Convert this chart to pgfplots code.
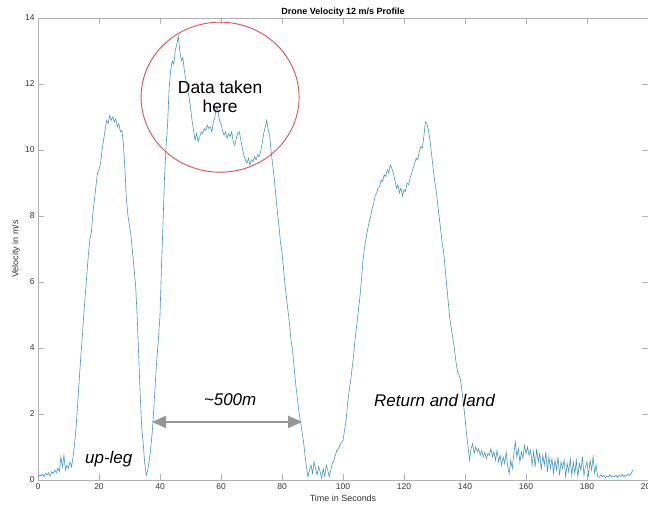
\documentclass[border=0pt]{standalone}
\usepackage{pgfplots}
\pgfplotsset{compat=1.18}
\usepackage{fontspec}
\setmainfont{Liberation Sans}
\usetikzlibrary{arrows.meta}
\definecolor{mline}{RGB}{70,150,196}
\definecolor{circ}{RGB}{222,80,80}
\definecolor{arr}{RGB}{150,150,150}
\begin{document}
\begin{tikzpicture}
\begin{axis}[
  width=610bp, height=462bp, scale only axis,
  xmin=0, xmax=200, ymin=0, ymax=14,
  xtick distance=20, ytick distance=2,
  tick align=inside, major tick length=6bp,
  axis line style={gray!60, line width=0.5pt},
  tick style={gray!60, line width=0.5pt},
  tick label style={font=\fontsize{8.5}{10}\selectfont, text=black!80},
  /pgf/number format/assume math mode=true,
  title={\bfseries Drone Velocity 12 m/s Profile},
  title style={font=\fontsize{9}{11}\selectfont, yshift=-8bp},
  xlabel={Time in Seconds}, ylabel={Velocity in m/s},
  label style={font=\fontsize{9}{11}\selectfont, text=black!80},
  xlabel style={yshift=1bp},
  ylabel style={yshift=-2bp},
  clip=false,
]
\addplot[mline, line width=0.6pt] coordinates {
(0,0.10)(0.5,0.15)(1,0.12)(1.5,0.18)(2,0.10)(2.5,0.20)(3,0.15)(3.5,0.22)(4,0.12)(4.5,0.25)
(5,0.20)(5.5,0.30)(6,0.22)(6.5,0.35)(7,0.25)(7.5,0.70)(8,0.40)(8.5,0.75)(9,0.30)(9.5,0.45)
(10,0.35)(10.5,0.55)(11,0.40)(11.5,0.70)(12,1.10)(12.5,1.60)(13,2.30)(13.5,3.00)(14,3.70)(14.5,4.30)
(15,5.00)(15.5,5.60)(16,6.20)(16.5,6.80)(17,7.30)(17.5,7.50)(18,8.10)(18.5,8.50)(19,8.90)(19.5,9.30)
(20,9.40)(20.5,9.60)(21,10.00)(21.5,10.30)(22,10.60)(22.5,10.90)(23,10.80)(23.5,11.05)(24,10.90)(24.5,11.00)
(25,10.85)(25.5,10.95)(26,10.70)(26.5,10.80)(27,10.55)(27.5,10.60)(28,10.20)(28.5,9.40)(29,8.50)(29.5,8.00)
(30,7.70)(30.5,7.40)(31,6.90)(31.5,6.40)(32,5.90)(32.5,5.00)(33,3.80)(33.5,2.60)(34,1.60)(34.5,1.10)
(35,0.50)(35.5,0.15)(36,0.30)(36.5,0.60)(37,1.00)(37.5,1.50)(38,2.20)(38.5,3.00)(39,3.70)(39.5,4.30)
(40,5.00)(40.5,6.50)(41,7.80)(41.5,9.20)(42,10.10)(42.5,10.80)(43,11.90)(43.5,12.40)(44,12.70)(44.5,12.60)
(45,13.00)(45.5,13.20)(46,13.45)(46.5,13.00)(47,12.70)(47.5,12.80)(48,12.40)(48.5,12.10)(49,11.90)(49.5,11.60)
(50,11.30)(50.5,10.90)(51,10.60)(51.5,10.30)(52,10.50)(52.5,10.25)(53,10.40)(53.5,10.55)(54,10.50)(54.5,10.65)
(55,10.60)(55.5,10.75)(56,10.65)(56.5,10.70)(57,10.55)(57.5,10.85)(58,11.00)(58.5,11.30)(59,11.20)(59.5,10.90)
(60,10.80)(60.5,10.60)(61,10.45)(61.5,10.55)(62,10.35)(62.5,10.50)(63,10.40)(63.5,10.55)(64,10.25)(64.5,10.15)
(65,10.35)(65.5,10.50)(66,10.55)(66.5,10.30)(67,10.05)(67.5,9.85)(68,9.70)(68.5,9.60)(69,9.75)(69.5,9.55)
(70,9.70)(70.5,9.65)(71,9.80)(71.5,9.70)(72,9.85)(72.5,9.80)(73,9.95)(73.5,10.20)(74,10.50)(74.5,10.70)
(75,10.90)(75.5,10.60)(76,10.40)(76.5,9.90)(77,9.50)(77.5,9.10)(78,8.60)(78.5,8.10)(79,7.70)(79.5,7.20)
(80,6.90)(80.5,6.40)(81,5.90)(81.5,5.50)(82,5.10)(82.5,4.70)(83,4.20)(83.5,3.90)(84,3.40)(84.5,2.90)
(85,2.50)(85.5,2.10)(86,1.80)(86.5,1.50)(87,1.20)(87.5,0.80)(88,0.40)(88.5,0.10)(89,0.30)(89.5,0.45)
(90,0.20)(90.5,0.55)(91,0.35)(91.5,0.15)(92,0.40)(92.5,0.25)(93,0.05)(93.5,0.35)(94,0.10)(94.5,0.45)
(95,0.30)(95.5,0.10)(96,0.30)(96.5,0.50)(97,0.60)(97.5,0.75)(98,0.90)(98.5,0.95)(99,1.05)(99.5,1.15)
(100,1.20)(100.5,1.50)(101,1.80)(101.5,2.30)(102,2.70)(102.5,3.00)(103,3.40)(103.5,3.80)(104,4.30)(104.5,4.70)
(105,5.10)(105.5,5.50)(106,6.00)(106.5,6.60)(107,7.00)(107.5,7.30)(108,7.55)(108.5,7.80)(109,7.95)(109.5,8.20)
(110,8.35)(110.5,8.60)(111,8.70)(111.5,8.85)(112,8.90)(112.5,9.10)(113,9.05)(113.5,9.25)(114,9.20)(114.5,9.40)
(115,9.30)(115.5,9.55)(116,9.45)(116.5,9.30)(117,9.10)(117.5,8.85)(118,8.95)(118.5,8.70)(119,8.85)(119.5,8.60)
(120,8.80)(120.5,8.75)(121,9.00)(121.5,8.95)(122,9.15)(122.5,9.30)(123,9.45)(123.5,9.60)(124,9.75)(124.5,9.70)
(125,9.95)(125.5,10.10)(126,10.05)(126.5,10.40)(127,10.85)(127.5,10.80)(128,10.60)(128.5,10.30)(129,9.90)(129.5,9.50)
(130,9.10)(130.5,8.80)(131,8.40)(131.5,8.00)(132,7.60)(132.5,7.20)(133,6.90)(133.5,6.40)(134,5.90)(134.5,5.40)
(135,4.90)(135.5,4.60)(136,4.30)(136.5,4.00)(137,3.60)(137.5,3.30)(138,3.20)(138.5,3.05)(139,2.70)(139.5,2.30)
(140,1.90)(140.5,1.40)(141,1.00)(141.5,0.60)(142,0.95)(142.5,1.10)(143,0.80)(143.5,1.00)(144,0.85)(144.5,0.95)
(145,0.75)(145.5,0.90)(146,0.70)(146.5,0.85)(147,0.65)(147.5,0.80)(148,0.75)(148.5,0.95)(149,0.70)(149.5,0.85)
(150,0.60)(150.5,0.90)(151,0.55)(151.5,0.75)(152,0.45)(152.5,0.70)(153,0.50)(153.5,0.85)(154,0.40)(154.5,0.20)
(155,0.60)(155.5,0.35)(156,0.80)(156.5,1.15)(157,0.70)(157.5,0.95)(158,0.55)(158.5,0.85)(159,0.65)(159.5,1.05)
(160,0.80)(160.5,1.00)(161,0.75)(161.5,0.90)(162,0.45)(162.5,0.85)(163,0.40)(163.5,0.95)(164,0.55)(164.5,0.80)
(165,0.30)(165.5,0.75)(166,0.45)(166.5,0.85)(167,0.25)(167.5,0.70)(168,0.35)(168.5,0.65)(169,0.20)(169.5,0.60)
(170,0.30)(170.5,0.70)(171,0.15)(171.5,0.55)(172,0.35)(172.5,0.60)(173,0.10)(173.5,0.50)(174,0.25)(174.5,0.65)
(175,0.15)(175.5,0.55)(176,0.20)(176.5,0.60)(177,0.10)(177.5,0.50)(178,0.30)(178.5,0.70)(179,0.15)(179.5,0.40)
(180,0.55)(180.5,0.10)(181,0.60)(181.5,0.30)(182,0.70)(182.5,0.20)(183,0.45)(183.5,0.10)(184,0.08)(184.5,0.15)
(185,0.10)(185.5,0.14)(186,0.08)(186.5,0.12)(187,0.10)(187.5,0.16)(188,0.09)(188.5,0.13)(189,0.10)(189.5,0.15)
(190,0.08)(190.5,0.14)(191,0.11)(191.5,0.17)(192,0.10)(192.5,0.14)(193,0.12)(193.5,0.18)(194,0.14)(194.5,0.20)
(195,0.30)
};
\draw[circ, line width=0.9pt] (axis cs:59.7,11.6) ellipse [x radius=79bp, y radius=75bp];
\node[align=center, font=\fontsize{17.5}{19}\selectfont] at (axis cs:59.7,11.6) {Data taken\\here};
\draw[arr, line width=1.8pt, {Triangle[length=14bp,width=12bp]}-{Triangle[length=14bp,width=12bp]}]
  (axis cs:37.4,1.76) -- (axis cs:86.6,1.76);
\node[font=\fontsize{17}{19}\selectfont\itshape] at (axis cs:63,2.42) {\textasciitilde500m};
\node[font=\fontsize{17}{19}\selectfont\itshape] at (axis cs:23.2,0.64) {up-leg};
\node[font=\fontsize{17}{19}\selectfont\itshape] at (axis cs:130,2.4) {Return and land};
\end{axis}
\pgfresetboundingbox
\useasboundingbox ([xshift=-38bp,yshift=-26bp]current axis.south west) rectangle ([yshift=18bp]current axis.north east);
\end{tikzpicture}
\end{document}
